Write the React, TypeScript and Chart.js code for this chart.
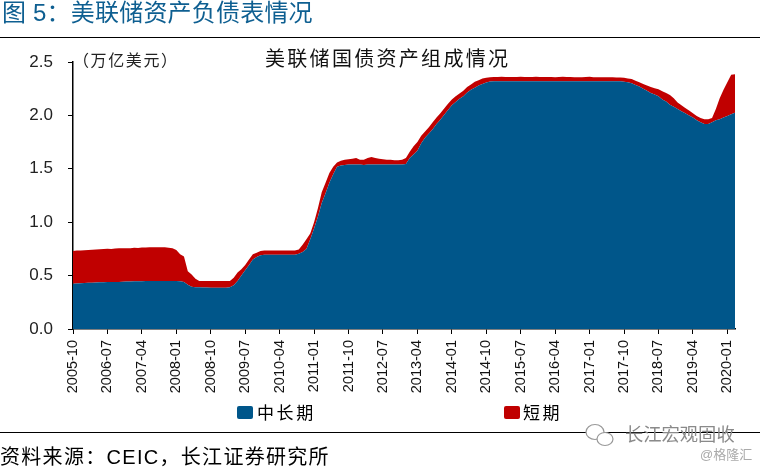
import React, { useEffect, useRef } from "react";
import { Chart, registerables } from "chart.js";

Chart.register(...registerables);

const tickLabels = ["2005-10","2006-07","2007-04","2008-01","2008-10","2009-07","2010-04","2011-01","2011-10","2012-07","2013-04","2014-01","2014-10","2015-07","2016-04","2017-01","2017-10","2018-07","2019-04","2020-01"];
const seriesNames = ["中长期", "短期"];
const seriesColors = ["#00568A", "#C00000"];
const yTicks = [0, 0.5, 1, 1.5, 2, 2.5];

const longTerm = [
  .424,.425,.428,.43,.432,.433,.435,.437,.438,.439,
  .44,.44,.441,.443,.444,.445,.446,.447,.448,.449,
  .449,.45,.45,.45,.45,.449,.449,.449,.447,.44,
  .414,.395,.39,.39,.388,.388,.387,.387,.387,.387,
  .387,.39,.41,.45,.5,.55,.6,.65,.675,.69,
  .695,.695,.695,.695,.695,.695,.695,.695,.695,.705,
  .72,.75,.84,.94,1.05,1.18,1.27,1.37,1.45,1.52,
  1.53,1.535,1.54,1.54,1.54,1.54,1.535,1.54,1.54,1.54,
  1.54,1.54,1.54,1.54,1.54,1.54,1.54,1.545,1.6,1.635,
  1.67,1.74,1.79,1.83,1.87,1.92,1.96,2.005,2.05,2.095,
  2.125,2.155,2.18,2.215,2.24,2.26,2.28,2.295,2.307,2.318,
  2.32,2.32,2.32,2.32,2.32,2.32,2.32,2.32,2.32,2.32,
  2.32,2.32,2.32,2.32,2.32,2.32,2.32,2.32,2.32,2.32,
  2.32,2.32,2.32,2.32,2.32,2.32,2.32,2.32,2.32,2.32,
  2.32,2.32,2.32,2.32,2.315,2.31,2.3,2.285,2.27,2.25,
  2.23,2.21,2.195,2.18,2.15,2.13,2.1,2.08,2.06,2.04,
  2.02,2,1.98,1.955,1.935,1.92,1.92,1.935,1.955,1.965,
  1.98,1.995,2.01,2.025,
];

const shortTerm = [
  .306,.31,.307,.308,.308,.309,.31,.31,.312,.313,
  .31,.313,.314,.312,.313,.31,.314,.311,.314,.313,
  .316,.315,.315,.315,.315,.311,.306,.291,.253,.24,
  .126,.115,.08,.059,.061,.061,.062,.062,.062,.062,
  .062,.059,.07,.08,.06,.05,.05,.05,.04,.04,
  .04,.04,.04,.04,.04,.04,.04,.04,.04,.04,
  .07,.09,.055,.06,.08,.1,.1,.09,.07,.04,
  .045,.05,.05,.055,.06,.045,.05,.06,.07,.06,
  .055,.05,.045,.045,.04,.04,.045,.055,.06,.075,
  .08,.07,.06,.06,.065,.06,.06,.06,.06,.055,
  .055,.05,.05,.05,.05,.055,.05,.05,.045,.04,
  .04,.04,.041,.04,.039,.04,.04,.041,.04,.04,
  .04,.041,.04,.039,.04,.04,.038,.04,.041,.039,
  .04,.038,.038,.037,.039,.043,.038,.038,.037,.037,
  .037,.038,.036,.036,.037,.035,.04,.04,.04,.045,
  .05,.055,.06,.065,.075,.08,.09,.08,.06,.055,
  .05,.045,.04,.04,.04,.045,.045,.04,.105,.195,
  .26,.315,.37,.36,
];

// Monthly category axis: 2005-10 onwards, one label per value.
const categories: string[] = longTerm.map((_, i) => {
  const m = 9 + i;
  return `${2005 + Math.floor(m / 12)}-${String((m % 12) + 1).padStart(2, "0")}`;
});

const FONT = '"Liberation Sans","Noto Sans CJK SC",sans-serif';

function Label(props: { x: number; cy: number; size: number; ls?: number; color?: string; text: string }) {
  const { x, cy, size, ls = 0, color = "#000", text } = props;
  return (
    <div
      style={{
        position: "absolute",
        left: x,
        top: cy - 15,
        height: 30,
        lineHeight: "30px",
        fontFamily: FONT,
        fontSize: size,
        letterSpacing: ls,
        color,
        whiteSpace: "pre",
      }}
    >
      {text}
    </div>
  );
}

export default function App() {
  const ref = useRef<HTMLCanvasElement | null>(null);

  useEffect(() => {
    const chart = new Chart(ref.current as HTMLCanvasElement, {
      type: "line",
      data: {
        labels: categories,
        datasets: [
          { label: seriesNames[0], data: longTerm, backgroundColor: seriesColors[0], borderWidth: 0, pointRadius: 0, fill: "origin", tension: 0 },
          { label: seriesNames[1], data: shortTerm, backgroundColor: seriesColors[1], borderWidth: 0, pointRadius: 0, fill: "-1", tension: 0 },
        ],
      },
      options: {
        responsive: false,
        animation: false,
        devicePixelRatio: 1,
        layout: { padding: { top: 62, right: 25, left: 0, bottom: 0 } },
        plugins: { legend: { display: false }, title: { display: false }, tooltip: { enabled: false } },
        scales: {
          x: {
            type: "category",
            offset: false,
            grid: { drawOnChartArea: false, drawTicks: true, tickLength: 5, color: "#000", tickWidth: 1 },
            border: { color: "#000", width: 1.5 },
            ticks: {
              autoSkip: false,
              minRotation: 90,
              maxRotation: 90,
              padding: 6,
              color: "#111",
              font: { family: FONT, size: 14.5 },
            },
            afterBuildTicks: (s: any) => {
              s.ticks = s.ticks.filter((t: any) => tickLabels.includes(categories[t.value]));
            },
            afterFit: (s: any) => {
              s.height = 140;
            },
          },
          y: {
            stacked: true,
            min: 0,
            max: 2.5,
            grid: { drawOnChartArea: false, drawTicks: true, tickLength: 5, color: "#000", tickWidth: 1 },
            border: { color: "#000", width: 1.5 },
            afterBuildTicks: (s: any) => {
              s.ticks = yTicks.map((v) => ({ value: v }));
            },
            ticks: {
              padding: 15,
              color: "#222",
              font: { family: FONT, size: 17 },
              callback: (v: any) => Number(v).toFixed(1),
            },
            afterFit: (s: any) => {
              s.width = 73;
            },
          },
        },
      },
    } as any);
    return () => chart.destroy();
  }, []);

  return (
    <div style={{ position: "absolute", left: 0, top: 0, width: 760, height: 469, background: "#fff", overflow: "hidden" }}>
      <canvas ref={ref} width={760} height={469} style={{ position: "absolute", left: 0, top: 0, display: "block" }} />
      <Label x={2} cy={13} size={24} ls={0.2} color="#0E5F91" text="图 5：美联储资产负债表情况" />
      <div style={{ position: "absolute", left: 0, top: 37, width: 760, height: 1, background: "#000" }} />
      <Label x={265} cy={59} size={20} ls={2.3} color="#111" text="美联储国债资产组成情况" />
      <Label x={73} cy={61} size={16} ls={1.6} color="#222" text="（万亿美元）" />
      <div style={{ position: "absolute", left: 237, top: 406, width: 16, height: 13, borderRadius: 2, background: seriesColors[0] }} />
      <Label x={257} cy={414} size={17} ls={2.6} text={seriesNames[0]} />
      <div style={{ position: "absolute", left: 504, top: 406, width: 16, height: 13, borderRadius: 2, background: seriesColors[1] }} />
      <Label x={523} cy={414} size={17} ls={2.6} text={seriesNames[1]} />
      <div style={{ position: "absolute", left: 0, top: 432, width: 760, height: 1, background: "#000" }} />
      <Label x={0} cy={457} size={20} ls={1.3} text="资料来源：CEIC，长江证券研究所" />
      <svg width={34} height={28} style={{ position: "absolute", left: 584, top: 422 }}>
        <ellipse cx={11} cy={10} rx={9} ry={7.5} fill="#fff" stroke="#999" strokeWidth={1.2} />
        <ellipse cx={21} cy={17} rx={8} ry={6.5} fill="#fff" stroke="#999" strokeWidth={1.2} />
      </svg>
      <Label x={625} cy={435} size={18.3} color="#8a8a8a" text="长江宏观固收" />
      <Label x={700} cy={455} size={13} color="#aaa" text="@格隆汇" />
    </div>
  );
}
